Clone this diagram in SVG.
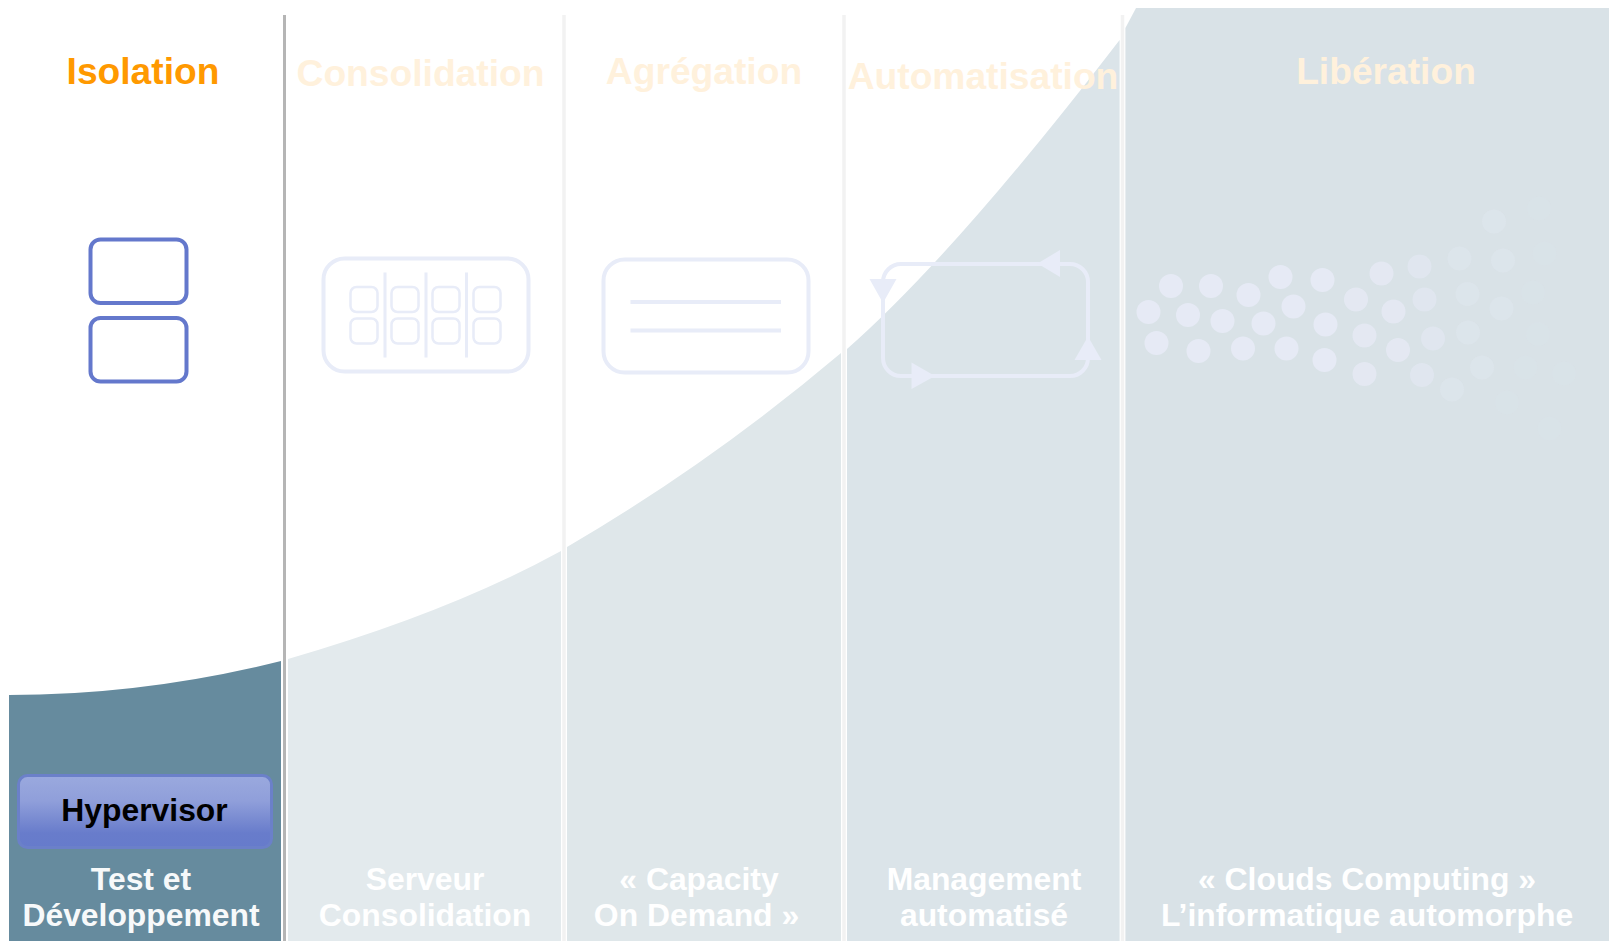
<svg xmlns="http://www.w3.org/2000/svg" width="1609" height="941" viewBox="0 0 1609 941">
<defs>
<linearGradient id="btn" x1="0" y1="0" x2="0" y2="1"><stop offset="0" stop-color="#9aa9de"/><stop offset="0.35" stop-color="#909fda"/><stop offset="0.8" stop-color="#687ccb"/><stop offset="1" stop-color="#667bcb"/></linearGradient>
</defs>
<style>
text{font-family:"Liberation Sans",Arial,sans-serif;font-weight:700;text-anchor:middle}
.h{font-size:37.200px;fill:#fff1dc}
.b{font-size:31.850px;fill:#fff}
.i{fill:none;stroke:#e8ecf8;stroke-width:4}
.s{fill:none;stroke:#e8ecf8;stroke-width:2.5}
.t{fill:#e8ecf8}
.sep{stroke:#f2f2f2;stroke-width:3.500}
.d{fill:#e6eaf5}
</style>
<rect width="1609" height="941" fill="#fff"/>
<g id="bands">
<path d="M9 695Q145 695 281 661V941H9Z" fill="#668b9e"/>
<path d="M288 659Q450 612 561 551V941H288Z" fill="#e3eaed"/>
<path d="M567 547Q711 463 841 353V941H567Z" fill="#dfe7ea"/>
<path d="M847 349Q955 254 1119.600 40V941H847Z" fill="#dbe4e9"/>
<path d="M1125.400 28L1136 8H1609V941H1125.400Z" fill="#d9e2e7"/>
</g>
<g id="separators">
<line x1="284.500" y1="15" x2="284.500" y2="941" stroke="#b5b5b5" stroke-width="3"/>
<line class="sep" x1="564" y1="15" x2="564" y2="941"/>
<line class="sep" x1="844" y1="15" x2="844" y2="941"/>
<line class="sep" x1="1122.500" y1="15" x2="1122.500" y2="941"/>
</g>
<g id="isolation">
<text x="143" y="84" style="font-size:37.200px;fill:#ff9900">Isolation</text>
<rect x="90.500" y="239.500" width="96" height="63.500" rx="10" fill="#fff" stroke="#6478cc" stroke-width="4"/>
<rect x="90.500" y="318" width="96" height="63.500" rx="10" fill="#fff" stroke="#6478cc" stroke-width="4"/>
<rect x="18.500" y="775.500" width="253" height="72" rx="9" fill="url(#btn)" stroke="#6b80c9" stroke-width="3"/>
<text x="144.500" y="821" style="font-size:31.850px;fill:#000">Hypervisor</text>
<text class="b" x="141" y="890" style="fill:#f7f9fa">Test et</text>
<text class="b" x="141" y="925.500" style="fill:#f7f9fa">Développement</text>
</g>
<g id="consolidation">
<text class="h" x="420.500" y="86">Consolidation</text>
<rect class="i" x="323.500" y="258.500" width="205" height="113" rx="21"/>
<rect class="s" x="350.500" y="287" width="27" height="25" rx="6"/><rect class="s" x="391.500" y="287" width="27" height="25" rx="6"/><rect class="s" x="432.500" y="287" width="27" height="25" rx="6"/><rect class="s" x="473.500" y="287" width="27" height="25" rx="6"/>
<rect class="s" x="350.500" y="318.500" width="27" height="25" rx="6"/><rect class="s" x="391.500" y="318.500" width="27" height="25" rx="6"/><rect class="s" x="432.500" y="318.500" width="27" height="25" rx="6"/><rect class="s" x="473.500" y="318.500" width="27" height="25" rx="6"/>
<path d="M385 272.500V357.500M426 272.500V357.500M466.500 272.500V357.500" stroke="#e8ecf8" stroke-width="3" fill="none"/>
<text class="b" x="425" y="890">Serveur</text>
<text class="b" x="425" y="926">Consolidation</text>
</g>
<g id="agregation">
<text class="h" x="704" y="84">Agrégation</text>
<rect class="i" x="603.500" y="259.500" width="205" height="113" rx="21"/>
<path d="M630.500 302H781M630.500 330.500H781" class="i"/>
<text class="b" x="699" y="890">« Capacity</text>
<text class="b" x="696.500" y="926">On Demand »</text>
</g>
<g id="automatisation">
<text class="h" x="983" y="89">Automatisation</text>
<rect class="i" x="883" y="264" width="205" height="112" rx="18"/>
<polygon class="t" points="1060,250 1060,277 1037.500,263.500"/>
<polygon class="t" points="869.500,279 896.500,279 883,303"/>
<polygon class="t" points="911.500,362.500 911.500,389 935,376"/>
<polygon class="t" points="1074.500,360 1101.500,360 1088,336.500"/>
<text class="b" x="984" y="890">Management</text>
<text class="b" x="984" y="926">automatisé</text>
</g>
<g id="liberation">
<text class="h" x="1386" y="84">Libération</text>
<g class="d">
<circle cx="1171" cy="286" r="12"/><circle cx="1211" cy="286" r="12"/><circle cx="1248.500" cy="295" r="12"/><circle cx="1280.500" cy="277" r="12"/><circle cx="1322.500" cy="280" r="12"/>
<circle cx="1148.500" cy="312" r="12"/><circle cx="1188" cy="315" r="12"/><circle cx="1222.500" cy="321" r="12"/><circle cx="1263.500" cy="323.500" r="12"/><circle cx="1293.500" cy="306.500" r="12"/>
<circle cx="1156.500" cy="343" r="12"/><circle cx="1198.500" cy="351" r="12"/><circle cx="1243" cy="348.500" r="12"/><circle cx="1286.500" cy="348.500" r="12"/><circle cx="1325.500" cy="324.500" r="12"/><circle cx="1324.500" cy="360" r="12"/>
</g>
<g class="d" fill-opacity="0.8">
<circle cx="1356" cy="299.500" r="12"/><circle cx="1364.500" cy="335.500" r="12"/><circle cx="1364.500" cy="374" r="12"/><circle cx="1381.500" cy="273.500" r="12"/><circle cx="1393.500" cy="311.500" r="12"/><circle cx="1398" cy="350" r="12"/>
</g>
<g class="d" fill-opacity="0.55">
<circle cx="1419.500" cy="266.500" r="12"/><circle cx="1424.500" cy="299.500" r="12"/><circle cx="1433" cy="338.500" r="12"/><circle cx="1422" cy="375" r="12"/>
</g>
<g class="d" fill-opacity="0.3">
<circle cx="1452" cy="389.500" r="12"/><circle cx="1459.500" cy="258.500" r="12"/><circle cx="1467.500" cy="294" r="12"/><circle cx="1468" cy="332.500" r="12"/><circle cx="1482" cy="367.500" r="12"/><circle cx="1503" cy="260.500" r="12"/><circle cx="1501.500" cy="308.500" r="12"/><circle cx="1494" cy="221.500" r="12"/>
</g>
<g class="d" fill-opacity="0.1">
<circle cx="1525.500" cy="367.500" r="12"/><circle cx="1507" cy="402.500" r="12"/><circle cx="1539" cy="208.500" r="12"/><circle cx="1544.500" cy="253.500" r="12"/><circle cx="1533" cy="292.500" r="12"/><circle cx="1538" cy="334" r="12"/><circle cx="1564" cy="373.500" r="12"/><circle cx="1549.500" cy="428.500" r="12"/>
</g>
<text class="b" x="1367" y="890">« Clouds Computing »</text>
<text class="b" x="1367" y="926">L’informatique automorphe</text>
</g>
<g id="connectors"></g>
</svg>
